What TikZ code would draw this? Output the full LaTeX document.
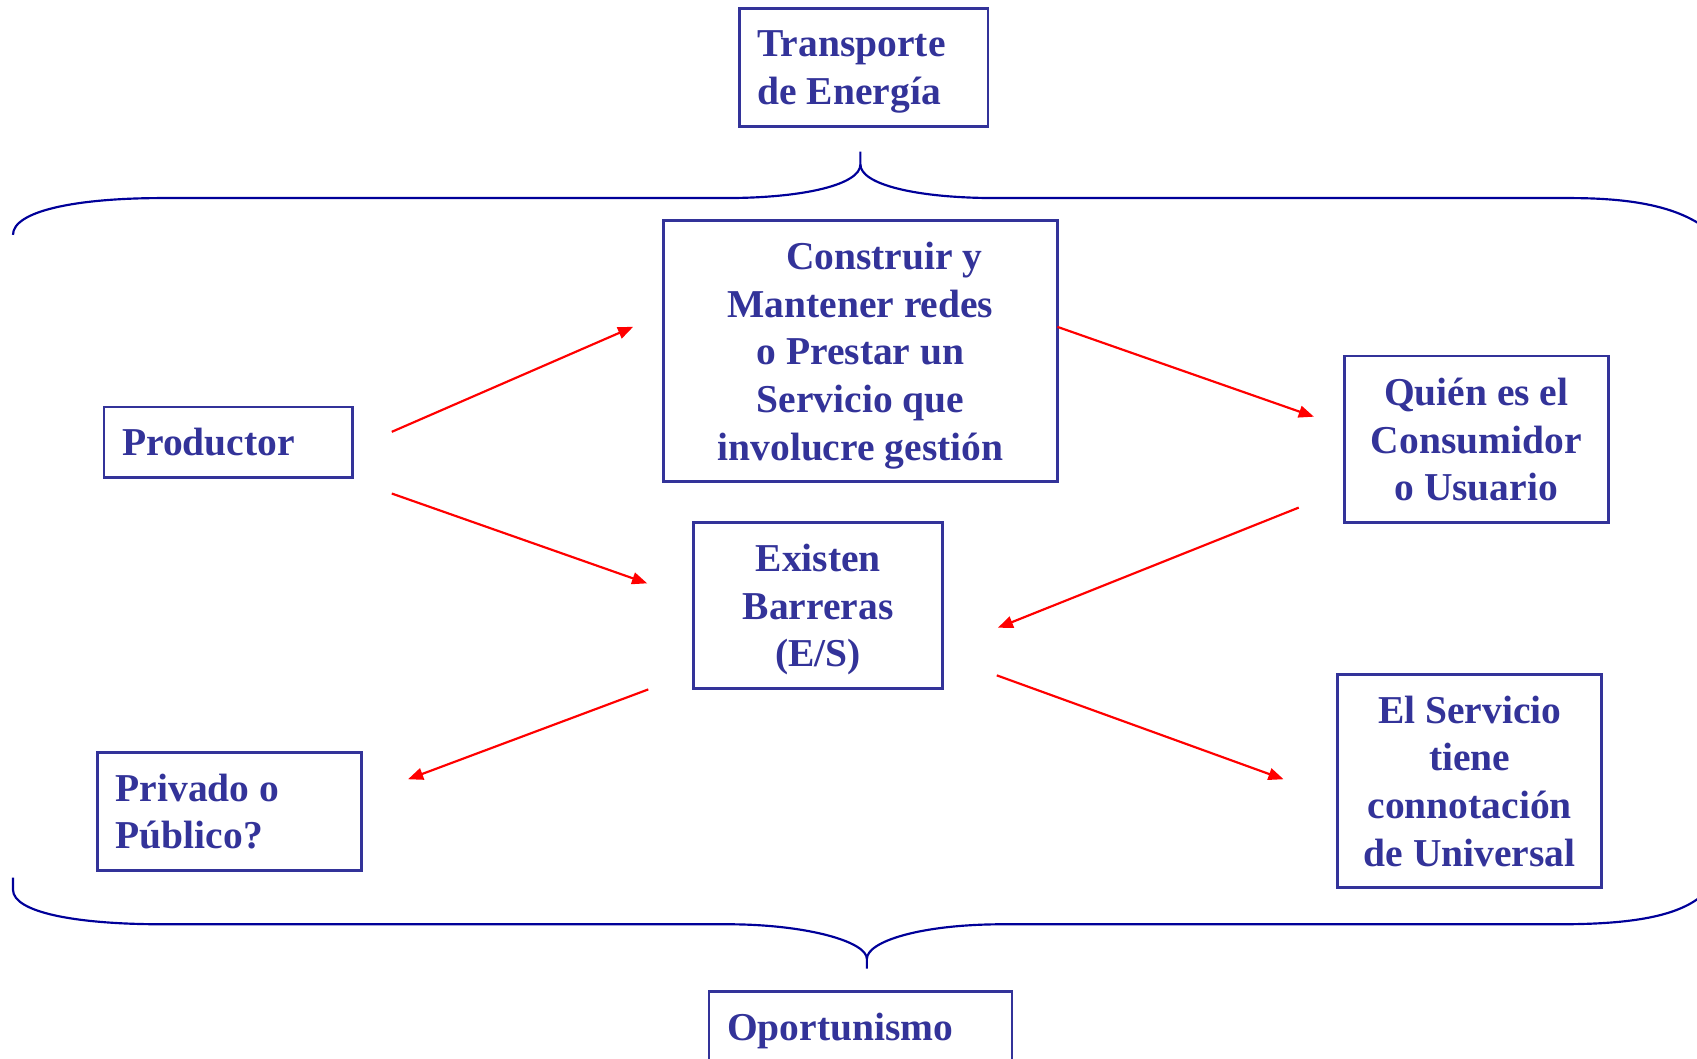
\documentclass[tikz,border=0pt]{standalone}
\usepackage{fontspec}
\setmainfont{Liberation Serif}
\usetikzlibrary{arrows.meta}
\definecolor{boxc}{HTML}{333399}
\definecolor{bracec}{HTML}{000099}
\definecolor{arrc}{HTML}{FF0000}
\tikzset{
  txt/.style={text=boxc, inner sep=0pt, text depth=0pt,
    font=\fontsize{36.5}{44}\selectfont\bfseries},
  frame/.style={draw=boxc, line width=2.5pt, inner sep=0pt},
  cbox/.style={frame, txt, align=center},
  ltxt/.style={txt, align=left, anchor=west},
  arr/.style={draw=arrc, line width=2pt, -{Triangle[length=14pt,width=11pt]}},
  brace/.style={draw=bracec, line width=2pt}
}
\begin{document}
\begin{tikzpicture}[x=1pt,y=-1pt]
\useasboundingbox (0,0) rectangle (1568,978);
% braces
\draw[brace] (12,217) .. controls (12,195) and (70,183) .. (150,183) -- (670,183)
  .. controls (745,183) and (795,170) .. (795,152) -- (795,140);
\draw[brace] (795,152) .. controls (795,170) and (845,183) .. (920,183) -- (1450,183)
  .. controls (1505,183) and (1545,190) .. (1572,208);
\draw[brace] (12,811) -- (12,822) .. controls (12,843) and (70,854) .. (150,854) -- (672,854)
  .. controls (745,854) and (801,870) .. (801,886) -- (801,895);
\draw[brace] (801,886) .. controls (801,870) and (850,854) .. (927,854) -- (1441,854)
  .. controls (1510,854) and (1550,846) .. (1572,828);
% boxes with left-aligned text
\node[frame, minimum width=230pt, minimum height=109pt] (trans) at (798,62.5) {};
\node[ltxt] (transT) at ([xshift=18pt]trans.west) {Transporte\\de Energía};
\node[frame, minimum width=230pt, minimum height=65pt] (prod) at (211,408.5) {};
\node[ltxt] (prodT) at ([xshift=18pt]prod.west) {Productor};
\node[frame, minimum width=244pt, minimum height=109pt] (priv) at (212,749.5) {};
\node[ltxt] (privT) at ([xshift=18pt]priv.west) {Privado o\\Público?};
\node[frame, minimum width=280pt, minimum height=65pt] (opor) at (795,948.5) {};
\node[ltxt] (oporT) at ([xshift=18pt]opor.west) {Oportunismo};
% boxes with centred text
\node[cbox, minimum width=364pt, minimum height=241pt] (constr) at (795,324.5) {\hspace*{44pt}Construir y\\Mantener redes\\o Prestar un\\Servicio que\\involucre gestión};
\node[cbox, minimum width=244pt, minimum height=154pt] (quien) at (1364,406) {Quién es el\\Consumidor\\o Usuario};
\node[cbox, minimum width=230pt, minimum height=153pt] (exist) at (756,559.5) {Existen\\Barreras\\(E/S)};
\node[cbox, minimum width=244pt, minimum height=197pt] (serv) at (1358,721.5) {El Servicio\\tiene\\connotación\\de Universal};
% arrow end points
\coordinate (a1s) at (362,399); \coordinate (a1e) at (585,302);
\coordinate (a2s) at (362,456); \coordinate (a2e) at (598,539);
\coordinate (a3s) at (977,302); \coordinate (a3e) at (1214,385);
\coordinate (a4s) at (1200,469); \coordinate (a4e) at (922,580);
\coordinate (a5s) at (599,637); \coordinate (a5e) at (377,720);
\coordinate (a6s) at (921,624); \coordinate (a6e) at (1186,720);
\draw[arr] (a1s) -- (a1e);
\draw[arr] (a2s) -- (a2e);
\draw[arr] (a3s) -- (a3e);
\draw[arr] (a4s) -- (a4e);
\draw[arr] (a5s) -- (a5e);
\draw[arr] (a6s) -- (a6e);
\end{tikzpicture}
\end{document}
